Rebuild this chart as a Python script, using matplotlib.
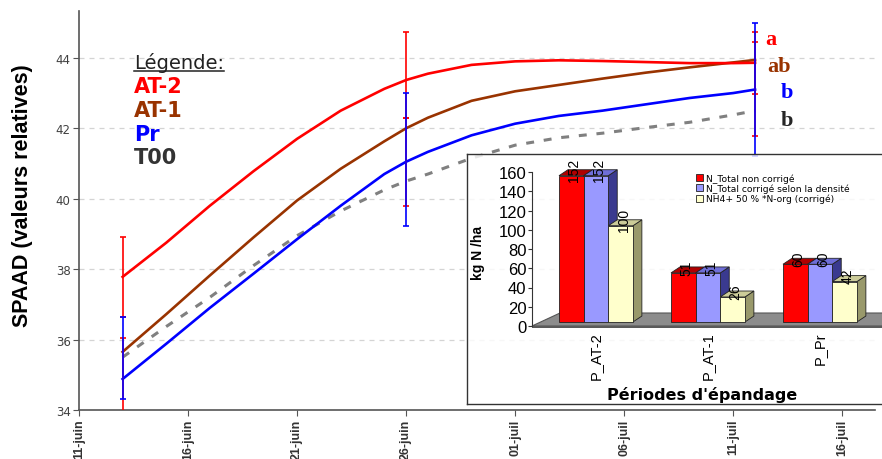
import matplotlib
matplotlib.use("Agg")
import matplotlib.pyplot as plt
import matplotlib.transforms as mtransforms
from matplotlib.patches import Polygon, Patch
from matplotlib.lines import Line2D

# ---------------- main chart data (days after 11-juin) ----------------
tick_days = [0, 5, 10, 15, 20, 25, 30, 35]
tick_labels = ["11-juin", "16-juin", "21-juin", "26-juin",
               "01-juil", "06-juil", "11-juil", "16-juil"]

days = [2, 4, 6, 8, 10, 12, 14, 15, 16, 18, 20, 22, 24, 26, 28, 30, 31]
at2 = [37.78, 38.75, 39.8, 40.78, 41.7, 42.5, 43.12, 43.37, 43.55, 43.8,
       43.9, 43.93, 43.91, 43.88, 43.85, 43.85, 43.86]
at1 = [35.65, 36.72, 37.82, 38.9, 39.95, 40.85, 41.63, 42.0, 42.3, 42.78,
       43.05, 43.23, 43.41, 43.58, 43.73, 43.87, 43.94]
pr = [34.88, 35.88, 36.9, 37.87, 38.85, 39.8, 40.7, 41.05, 41.33, 41.8,
      42.13, 42.35, 42.5, 42.68, 42.86, 43.0, 43.1]
t00 = [35.5, 36.37, 37.2, 38.1, 38.95, 39.65, 40.25, 40.5, 40.7, 41.15,
       41.52, 41.73, 41.86, 42.02, 42.17, 42.38, 42.5]

err_days = [2, 15, 31]
at2_err_low = [36.65, 42.3, 42.98]
at2_err_high = [38.9, 44.74, 44.74]
at1_err_low = [33.0, 39.8, 41.78]
at1_err_high = [36.05, 42.3, 44.45]
pr_err_low = [34.3, 39.23, 41.2]
pr_err_high = [36.65, 43.0, 45.0]

letters = ["a", "ab", "b", "b"]

# ---------------- inset bar chart data ----------------
periods = ["P_AT-2", "P_AT-1", "P_Pr"]
n_total = [152, 51, 60]
n_total_corr = [152, 51, 60]
nh4_norg = [100, 26, 42]
bar_series_names = ["N_Total non corrigé", "N_Total corrigé selon la densité",
                    "NH4+ 50 % *N-org (corrigé)"]

RED = "#FF0000"
BROWN = "#993300"
BLUE = "#0000FF"
GRAY = "#808080"
DARK = "#333333"

W, H = 882, 460
fig = plt.figure(figsize=(W / 100, H / 100), dpi=100)
fig.patch.set_facecolor("white")


def fx(px):
    return px / W


def fy(py):
    return (H - py) / H


# ---------------- main axes ----------------
ax_l, ax_r, ax_t, ax_b = 79, 875, 12, 411
ax = fig.add_axes([fx(ax_l), fy(ax_b), fx(ax_r) - fx(ax_l), fy(ax_t) - fy(ax_b)])
ax.set_zorder(1)
ax.set_xlim(0, 36.5)
ax.set_ylim(34, 45.33)

for s in ["top", "right"]:
    ax.spines[s].set_visible(False)
for s in ["left", "bottom"]:
    ax.spines[s].set_color("#555555")
    ax.spines[s].set_linewidth(1.2)

ax.set_yticks([34, 36, 38, 40, 42, 44])
ax.tick_params(axis="y", labelsize=8.5, labelcolor="#404040", length=4,
               color="#555555", pad=2)
ax.set_xticks(tick_days)
ax.set_xticklabels(tick_labels, rotation=90, fontsize=9,
                   fontweight="bold", family="Liberation Sans", va="top")
ax.tick_params(axis="x", length=4, color="#555555", pad=2,
               labelcolor="#333333")
ax.yaxis.grid(True, linestyle=(0, (4, 4)), color="#d4d4d4", linewidth=0.9)
ax.set_axisbelow(True)

ax.set_ylabel("SPAAD (valeurs relatives)", fontsize=15.5, fontweight="bold",
              family="Liberation Sans")
ax.yaxis.set_label_coords((33 - ax_l) / (ax_r - ax_l),
                          (ax_b - 196) / (ax_b - ax_t))

ax.plot(days, t00, color=GRAY, lw=2.2, linestyle=(0, (2.6, 3.2)), zorder=2)
ax.plot(days, pr, color=BLUE, lw=1.9, zorder=3)
ax.plot(days, at1, color=BROWN, lw=1.9, zorder=3)
ax.plot(days, at2, color=RED, lw=1.9, zorder=4)


def draw_err(low, high, color, z):
    mid = [(a + b) / 2 for a, b in zip(low, high)]
    half = [(b - a) / 2 for a, b in zip(low, high)]
    ax.errorbar(err_days, mid, yerr=half, fmt="none", ecolor=color,
                elinewidth=1.2, capsize=2.5, capthick=1.2, zorder=z)


draw_err(at2_err_low, at2_err_high, RED, 5)
draw_err(at1_err_low, at1_err_high, RED, 5)
draw_err(pr_err_low, pr_err_high, BLUE, 6)

# legend block
leg_x = fx(134)
fig.text(leg_x, fy(69), "Légende:", fontsize=14, color="#222222",
         va="baseline", ha="left", zorder=10)
fig.add_artist(Line2D([fx(134), fx(224)], [fy(72), fy(72)],
                      color="#222222", lw=1.1))
for name, col, yy in [("AT-2", RED, 87), ("AT-1", BROWN, 111),
                      ("Pr", BLUE, 135), ("T00", DARK, 158)]:
    fig.text(leg_x, fy(yy), name, fontsize=15, fontweight="bold", color=col,
             va="center", ha="left")

# significance letters
for txt, col, xx, yy in zip(letters, [RED, BROWN, BLUE, "#262626"],
                            [771, 779, 787, 787], [40, 67, 93, 121]):
    fig.text(fx(xx), fy(yy), txt, fontsize=16, fontweight="bold",
             family="Liberation Serif", color=col, ha="center", va="center")

# ---------------- inset frame ----------------
frame = fig.add_axes([fx(467), fy(405), 0.6, fy(155) - fy(405)])
frame.set_zorder(3)
frame.set_facecolor((1, 1, 1, 0.82))
frame.set_xticks([])
frame.set_yticks([])
for s in frame.spines.values():
    s.set_color("#333333")
    s.set_linewidth(1.0)

# ---------------- inset bar axes ----------------
bx = fig.add_axes([fx(532), fy(327), fx(882) - fx(532), fy(173) - fy(327)])
bx.set_zorder(4)
bx.patch.set_visible(False)
bx.set_xlim(-0.571, 2.554)
bx.set_ylim(0, 160)
for s in ["top", "right", "bottom"]:
    bx.spines[s].set_visible(False)
bx.spines["left"].set_color("#333333")
bx.set_yticks(range(0, 161, 20))
bx.tick_params(axis="y", labelsize=12, length=3, pad=1, color="#333333")
for lab in bx.get_yticklabels():
    lab.set_family("Liberation Sans")
bx.set_xticks(range(len(periods)))
bx.set_xticklabels(periods, rotation=90, fontsize=10.5,
                   family="Liberation Sans", va="top")
bx.tick_params(axis="x", length=0, pad=4)

# floor of the 3D plot
fdx, fdy = 0.25, 13.5
bx.add_patch(Polygon([(-0.571, 0), (3.0, 0), (3.0 + fdx, fdy),
                      (-0.571 + fdx, fdy)], closed=True,
                     facecolor="#8c8c8c", edgecolor="#555555", lw=0.8,
                     clip_on=False, zorder=1))
bx.add_patch(Polygon([(-0.571, 0), (3.0, 0), (3.0, -2.5), (-0.571, -2.5)],
                     closed=True, facecolor="#5a5a5a", edgecolor="none",
                     clip_on=False, zorder=1))

lift = mtransforms.ScaledTranslation(0, 4 / 100, fig.dpi_scale_trans)
bar_tr = bx.transData + lift
lab_tr = bx.transData + mtransforms.ScaledTranslation(3 / 100, 10 / 100,
                                                      fig.dpi_scale_trans)

bw = 0.22
ddx, ddy = 0.08, 6.2
series = [
    (n_total, "#FF0000", "#B00000", "#800000", -bw),
    (n_total_corr, "#9999FF", "#6E6ED8", "#3A3A8F", 0.0),
    (nh4_norg, "#FFFFCC", "#CCCC99", "#99996B", bw),
]
for gi in range(len(periods)):
    for vals, front, top, side, off in series:
        v = vals[gi]
        x0 = gi + off - bw / 2
        x1 = x0 + bw
        bx.add_patch(Polygon([(x1, 0), (x1, v), (x1 + ddx, v + ddy),
                              (x1 + ddx, ddy)], closed=True, facecolor=side,
                             edgecolor="#222222", lw=0.6, transform=bar_tr,
                             clip_on=False, zorder=2))
        bx.add_patch(Polygon([(x0, v), (x1, v), (x1 + ddx, v + ddy),
                              (x0 + ddx, v + ddy)], closed=True,
                             facecolor=top, edgecolor="#222222", lw=0.6,
                             transform=bar_tr, clip_on=False, zorder=2))
        bx.bar([gi + off], [v], width=bw, color=front, edgecolor="#222222",
               linewidth=0.6, transform=bar_tr, clip_on=False, zorder=2)
        bx.text(gi + off, v, str(v), rotation=90, ha="center", va="center",
                fontsize=10, family="Liberation Sans", transform=lab_tr,
                zorder=3, clip_on=False)

handles = [Patch(facecolor=c, edgecolor="#222222", linewidth=0.6)
           for c in ["#FF0000", "#9999FF", "#FFFFCC"]]
bx.legend(handles, bar_series_names, loc="upper left",
          bbox_to_anchor=(fx(696), fy(174)), bbox_transform=fig.transFigure,
          frameon=False, fontsize=6.6, handlelength=0.8, handleheight=0.8,
          handletextpad=0.3, labelspacing=0.1, borderpad=0, borderaxespad=0)

fig.text(fx(478), fy(253), "kg N /ha", rotation=90, fontsize=10,
         fontweight="bold", family="Liberation Sans", ha="center",
         va="center", zorder=10)
fig.text(fx(702), fy(395), "Périodes d'épandage", fontsize=11.5,
         fontweight="bold", ha="center", va="center", zorder=10)

fig.savefig("out.png", dpi=100)
